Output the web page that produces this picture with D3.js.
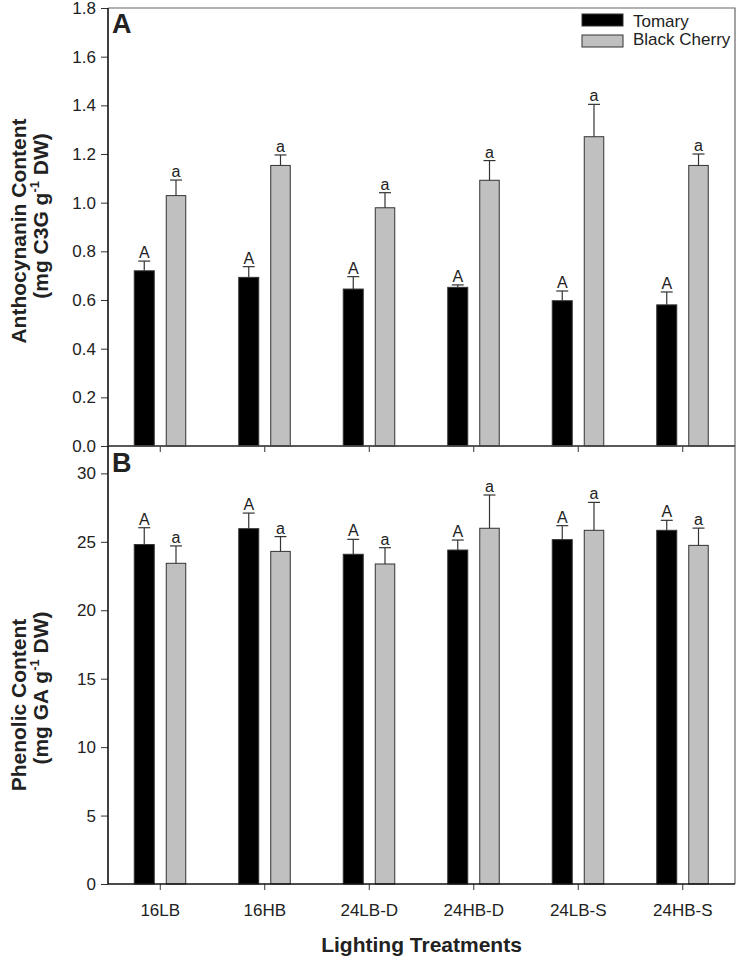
<!DOCTYPE html>
<html>
<head>
<meta charset="utf-8">
<script src="https://cdn.jsdelivr.net/npm/d3@7"></script>
<style>
  body { margin: 0; background: #fff; }
  text { font-family: "Liberation Sans", Arial, sans-serif; fill: #222; }
</style>
</head>
<body>
<div id="chart"></div>
<script>
var treatments = ["16LB", "16HB", "24LB-D", "24HB-D", "24LB-S", "24HB-S"];
var seriesNames = ["Tomary", "Black Cherry"];

// panel A: anthocyanin (mean, upper error)
var anthoTomary = [0.72, 0.693, 0.645, 0.652, 0.597, 0.580];
var anthoTomaryErr = [0.04, 0.044, 0.051, 0.010, 0.040, 0.053];
var anthoCherry = [1.029, 1.153, 0.979, 1.092, 1.271, 1.153];
var anthoCherryErr = [0.064, 0.043, 0.062, 0.081, 0.133, 0.047];
var anthoTomaryLetters = ["A", "A", "A", "A", "A", "A"];
var anthoCherryLetters = ["a", "a", "a", "a", "a", "a"];

// panel B: phenolics
var phenTomary = [24.8, 25.96, 24.09, 24.4, 25.16, 25.84];
var phenTomaryErr = [1.23, 1.14, 1.09, 0.73, 1.02, 0.73];
var phenCherry = [23.43, 24.3, 23.38, 25.99, 25.84, 24.74];
var phenCherryErr = [1.27, 1.08, 1.19, 2.43, 2.04, 1.26];
var phenTomaryLetters = ["A", "A", "A", "A", "A", "A"];
var phenCherryLetters = ["a", "a", "a", "a", "a", "a"];

var anthoTicks = [0, 0.2, 0.4, 0.6, 0.8, 1.0, 1.2, 1.4, 1.6, 1.8];
var phenTicks = [0, 5, 10, 15, 20, 25, 30];

var width = 743, height = 961;
var left = 108, right = 735;
var colors = ["#000000", "#c0c0c0"];
var fontFam = '"Liberation Sans", Arial, sans-serif';

var svg = d3.select("#chart").append("svg")
  .attr("width", width)
  .attr("height", height);

var x = d3.scaleBand().domain(treatments).range([left, right]).padding(0);
var center = d => x(d) + x.bandwidth() / 2;

/* Draw one panel */
function panel(opts) {
  var y = d3.scaleLinear().domain(opts.domain).range([opts.bottom, opts.top]);
  var g = svg.append("g");

  // frame (top and right)
  g.append("path")
    .attr("d", `M${left},${opts.top}H${right}V${opts.bottom}`)
    .attr("fill", "none").attr("stroke", "#666").attr("stroke-width", 1.2);

  var series = [
    { vals: opts.tom, err: opts.tomErr, letters: opts.tomL, off: -26, w: 20, c: colors[0] },
    { vals: opts.che, err: opts.cheErr, letters: opts.cheL, off: 6, w: 19.5, c: colors[1] }
  ];

  series.forEach(function(s) {
    var items = treatments.map((t, i) => ({ t: t, v: s.vals[i], e: s.err[i], l: s.letters[i] }));
    var sg = g.append("g");
    sg.selectAll("rect").data(items).enter().append("rect")
      .attr("x", d => center(d.t) + s.off)
      .attr("y", d => y(d.v))
      .attr("width", s.w)
      .attr("height", d => y(0) - y(d.v))
      .attr("fill", s.c)
      .attr("stroke", "#333").attr("stroke-width", 1);
    // error bars, upper only
    sg.selectAll("line.err").data(items).enter().append("line")
      .attr("class", "err")
      .attr("x1", d => center(d.t) + s.off + s.w / 2)
      .attr("x2", d => center(d.t) + s.off + s.w / 2)
      .attr("y1", d => y(d.v))
      .attr("y2", d => y(d.v + d.e))
      .attr("stroke", "#333").attr("stroke-width", 1.2);
    sg.selectAll("line.cap").data(items).enter().append("line")
      .attr("class", "cap")
      .attr("x1", d => center(d.t) + s.off + s.w / 2 - 6)
      .attr("x2", d => center(d.t) + s.off + s.w / 2 + 6)
      .attr("y1", d => y(d.v + d.e))
      .attr("y2", d => y(d.v + d.e))
      .attr("stroke", "#333").attr("stroke-width", 1.2);
    sg.selectAll("text").data(items).enter().append("text")
      .attr("x", d => center(d.t) + s.off + s.w / 2)
      .attr("y", d => y(d.v + d.e) - 3)
      .attr("text-anchor", "middle")
      .style("font-size", "16px")
      .text(d => d.l);
  });

  // axes
  var yAxis = d3.axisLeft(y).tickValues(opts.ticks).tickSize(7).tickPadding(5)
    .tickFormat(opts.fmt);
  var ya = g.append("g").attr("transform", `translate(${left},0)`).call(yAxis);
  ya.select(".domain").remove();
  ya.append("line").attr("x1", 0).attr("x2", 0).attr("y1", opts.top).attr("y2", opts.bottom)
    .attr("stroke", "#111").attr("stroke-width", 1.6);
  ya.selectAll(".tick line").attr("stroke", "#333");
  ya.selectAll(".tick text").style("font-size", "17px").attr("fill", "#222")
    .style("font-family", fontFam);

  var xAxis = d3.axisBottom(x).tickSize(6).tickFormat(opts.showX ? null : "");
  var xa = g.append("g").attr("transform", `translate(0,${opts.bottom})`).call(xAxis);
  xa.select(".domain").remove();
  xa.append("line").attr("x1", left).attr("x2", right).attr("y1", 0).attr("y2", 0)
    .attr("stroke", "#111").attr("stroke-width", 1.4);
  xa.selectAll(".tick line").attr("stroke", "#333");
  xa.selectAll(".tick text").style("font-size", "17px").attr("y", 20).attr("dy", "0.71em")
    .attr("fill", "#222").style("font-family", fontFam);

  // panel letter
  g.append("text").attr("x", left + 4).attr("y", opts.letterY)
    .style("font-size", "27px").style("font-weight", "bold").attr("fill", "#111")
    .text(opts.letter);

  // y title, two lines
  var t1 = g.append("text")
    .attr("transform", `translate(26,${opts.title1Y}) rotate(-90)`)
    .attr("text-anchor", "middle")
    .style("font-size", "21px").style("font-weight", "bold").attr("fill", "#111")
    .text(opts.title1);
  var t2 = g.append("text")
    .attr("transform", `translate(48,${opts.title2Y}) rotate(-90)`)
    .attr("text-anchor", "middle")
    .style("font-size", "21px").style("font-weight", "bold").attr("fill", "#111");
  t2.append("tspan").text(opts.title2a);
  t2.append("tspan").attr("dy", -9).style("font-size", "13px").text("-1");
  t2.append("tspan").attr("dy", 9).text(" " + opts.title2b);
  return y;
}

panel({
  domain: [0, 1.8], top: 8, bottom: 446,
  tom: anthoTomary, tomErr: anthoTomaryErr, che: anthoCherry, cheErr: anthoCherryErr,
  tomL: anthoTomaryLetters, cheL: anthoCherryLetters,
  ticks: anthoTicks, fmt: d3.format(".1f"), showX: false,
  letter: "A", letterY: 33, title1Y: 231, title2Y: 216,
  title1: "Anthocynanin Content", title2a: "(mg C3G g", title2b: "DW)"
});

panel({
  domain: [0, 32], top: 446, bottom: 884,
  tom: phenTomary, tomErr: phenTomaryErr, che: phenCherry, cheErr: phenCherryErr,
  tomL: phenTomaryLetters, cheL: phenCherryLetters,
  ticks: phenTicks, fmt: d3.format("d"), showX: true,
  letter: "B", letterY: 472, title1Y: 705, title2Y: 688,
  title1: "Phenolic Content", title2a: "(mg GA g", title2b: "DW)"
});

/* x title */
svg.append("text")
  .attr("x", (left + right) / 2).attr("y", 952)
  .attr("text-anchor", "middle")
  .style("font-size", "21px").style("font-weight", "bold").attr("fill", "#111")
  .text("Lighting Treatments");

/* legend */
var legend = svg.append("g").attr("transform", "translate(582,14)");
seriesNames.forEach(function(n, i) {
  legend.append("rect").attr("x", 0).attr("y", i * 21).attr("width", 41).attr("height", 12)
    .attr("fill", colors[i]).attr("stroke", "#333").attr("stroke-width", 1);
  legend.append("text").attr("x", 51).attr("y", i * 18 + 13)
    .style("font-size", "17px").text(n);
});
</script>
</body>
</html>
